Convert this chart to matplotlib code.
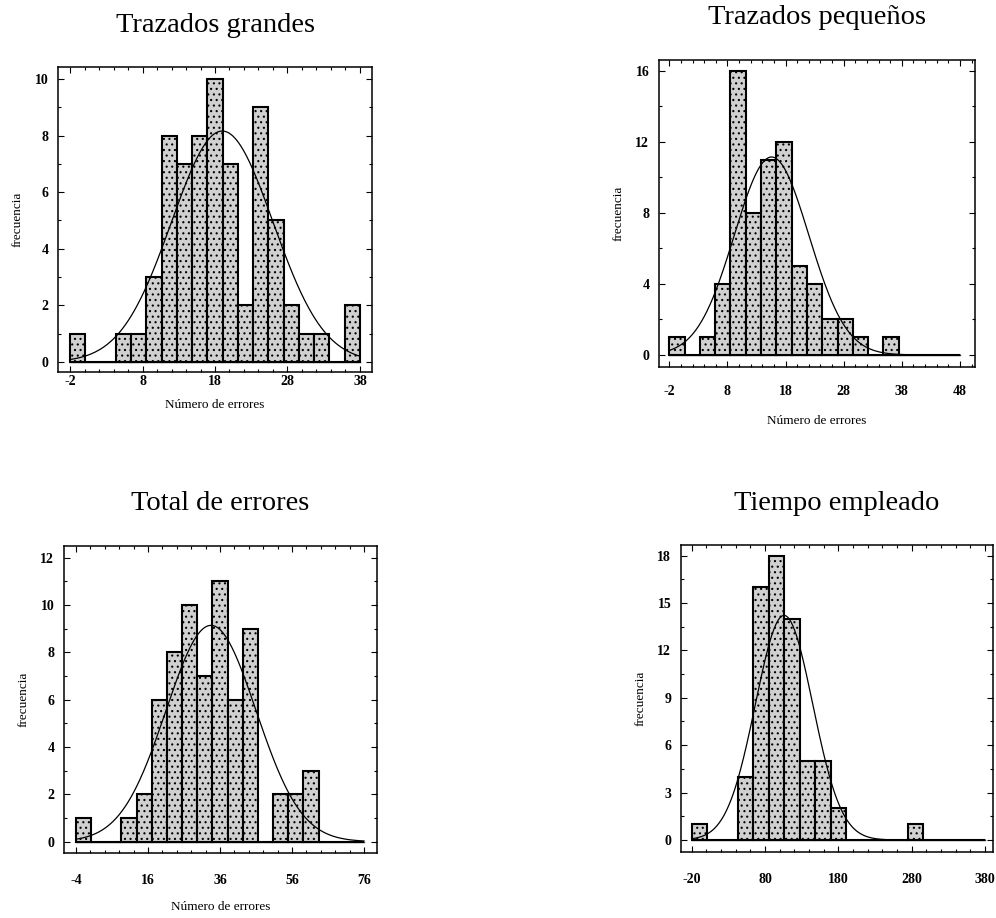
import numpy as np
import matplotlib
matplotlib.use("Agg")
import matplotlib.pyplot as plt
from matplotlib.ticker import AutoMinorLocator

plt.rcParams["font.family"] = ["Liberation Serif", "DejaVu Serif"]
plt.rcParams["axes.unicode_minus"] = False
plt.rcParams["hatch.linewidth"] = 0.8

# histogram data, 19 bins per panel
titles = ["Trazados grandes", "Trazados pequeños", "Total de errores", "Tiempo empleado"]
xlabels = ["Número de errores", "Número de errores", "Número de errores", ""]
bin_lo = [-2, -2, -4, -20]
bin_hi = [38, 48, 76, 380]
counts_grandes = [1, 0, 0, 1, 1, 3, 8, 7, 8, 10, 7, 2, 9, 5, 2, 1, 1, 0, 2]
counts_pequenos = [1, 0, 1, 4, 16, 8, 11, 12, 5, 4, 2, 2, 1, 0, 1, 0, 0, 0, 0]
counts_total = [1, 0, 0, 1, 2, 6, 8, 10, 7, 11, 6, 9, 0, 2, 2, 3, 0, 0, 0]
counts_tiempo = [1, 0, 0, 4, 16, 18, 14, 5, 5, 2, 0, 0, 0, 0, 1, 0, 0, 0, 0]
counts = [counts_grandes, counts_pequenos, counts_total, counts_tiempo]

# fitted normal curve parameters
fit_mean = [19.0, 15.6, 33.5, 106.0]
fit_sd = [7.0, 6.4, 12.5, 39.0]

xticks = [[-2, 8, 18, 28, 38], [-2, 8, 18, 28, 38, 48],
          [-4, 16, 36, 56, 76], [-20, 80, 180, 280, 380]]
yticks = [[0, 2, 4, 6, 8, 10], [0, 4, 8, 12, 16],
          [0, 2, 4, 6, 8, 10, 12], [0, 3, 6, 9, 12, 15, 18]]
xlims = [(-3.66, 39.66), (-3.77, 50.6), (-7.33, 79.6), (-34.6, 391.0)]
ylims = [(-0.35, 10.42), (-0.68, 16.62), (-0.48, 12.49), (-0.76, 18.67)]

W, H = 996, 918
# axes boxes in pixels: left, top, right, bottom
boxes = [(58, 67, 372, 372), (659, 60, 975, 367),
         (64, 546, 377, 853), (681, 545, 993, 852)]
title_y = [25, 18, 503, 503]
xtick_pad = [2, 13, 15, 15]
xlabel_pad = [8, 12, 10, 0]

fig = plt.figure(figsize=(W / 100, H / 100), dpi=100)

for i in range(4):
    l, t, r, b = boxes[i]
    ax = fig.add_axes([l / W, 1 - b / H, (r - l) / W, (b - t) / H])
    edges = np.linspace(bin_lo[i], bin_hi[i], len(counts[i]) + 1)
    width = edges[1] - edges[0]
    ax.bar(edges[:-1], counts[i], width=width, align="edge",
           facecolor="#d0d0d0", edgecolor="black", hatch="...",
           linewidth=1.5, zorder=2)
    # baseline
    ax.plot([bin_lo[i], bin_hi[i]], [0, 0], color="#444444", linewidth=1.0, zorder=1)
    # normal fit scaled to counts
    xs = np.linspace(bin_lo[i], bin_hi[i], 300)
    n = np.sum(counts[i])
    ys = n * width / (fit_sd[i] * np.sqrt(2 * np.pi)) * np.exp(-0.5 * ((xs - fit_mean[i]) / fit_sd[i]) ** 2)
    ax.plot(xs, ys, color="black", linewidth=0.9, zorder=3)

    ax.set_xlim(*xlims[i])
    ax.set_ylim(*ylims[i])
    ax.set_xticks(xticks[i])
    ax.set_yticks(yticks[i])
    ax.xaxis.set_minor_locator(AutoMinorLocator(5))
    ax.yaxis.set_minor_locator(AutoMinorLocator(2))
    ax.tick_params(which="both", direction="in", top=True, right=True, width=0.8)
    ax.tick_params(which="major", length=4)
    ax.tick_params(which="minor", length=2)
    ax.tick_params(axis="x", pad=xtick_pad[i])
    ax.tick_params(axis="y", pad=7)
    for lab in ax.get_xticklabels() + ax.get_yticklabels():
        lab.set_fontsize(10)
        lab.set_fontweight("bold")
    for s in ax.spines.values():
        s.set_linewidth(1.1)

    ax.set_ylabel("frecuencia", fontsize=9.5, labelpad=8)
    if xlabels[i]:
        ax.set_xlabel(xlabels[i], fontsize=9.5, labelpad=xlabel_pad[i])

    fig.text((l + r) / 2 / W, 1 - title_y[i] / H, titles[i],
             fontsize=20.5, ha="center", va="center")

fig.savefig("out.png", dpi=100)
